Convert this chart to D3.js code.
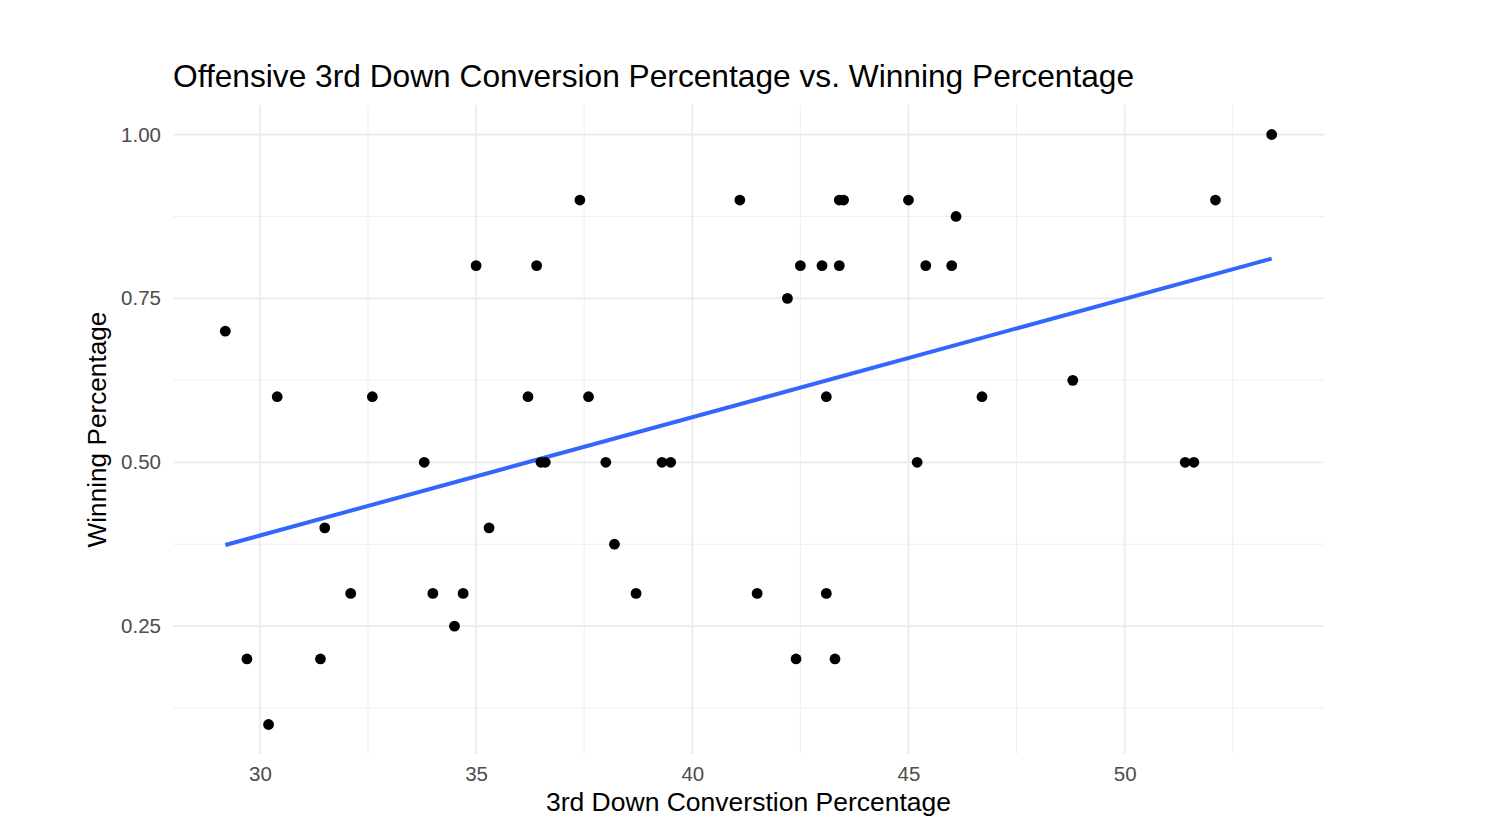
<!DOCTYPE html>
<html>
<head>
<meta charset="utf-8">
<script src="https://cdn.jsdelivr.net/npm/d3@7"></script>
<style>
  body { margin: 0; background: #fff; }
  text { font-family: "Liberation Sans", Arial, sans-serif; }
</style>
</head>
<body>
<svg></svg>
<script>
// third down conversion % (x) and winning % (y), one entry per team
var conversion = [29.2, 30.4, 32.6, 29.7, 30.2, 31.4, 31.5, 32.1, 33.8, 34.0, 34.5, 34.7,
  35.0, 35.3, 36.2, 36.4, 36.5, 36.6, 37.4, 37.6, 38.0, 38.2, 38.7, 39.3, 39.5,
  41.1, 41.5, 42.2, 42.4, 42.5, 43.0, 43.1, 43.1, 43.3, 43.4, 43.5, 43.4,
  45.0, 45.2, 45.4, 46.0, 46.1, 46.7, 48.8, 51.4, 51.6, 52.1, 53.4];
var winPct = [0.7, 0.6, 0.6, 0.2, 0.1, 0.2, 0.4, 0.3, 0.5, 0.3, 0.25, 0.3,
  0.8, 0.4, 0.6, 0.8, 0.5, 0.5, 0.9, 0.6, 0.5, 0.375, 0.3, 0.5, 0.5,
  0.9, 0.3, 0.75, 0.2, 0.8, 0.8, 0.6, 0.3, 0.2, 0.9, 0.9, 0.8,
  0.9, 0.5, 0.8, 0.8, 0.875, 0.6, 0.625, 0.5, 0.5, 0.9, 1.0];
var xTicks = [30, 35, 40, 45, 50];
var yTicks = [0.25, 0.50, 0.75, 1.00];

var points = conversion.map(function(c, i) { return {x: c, y: winPct[i]}; });

var svg = d3.select("svg").attr("width", 1500).attr("height", 836);
var margins = {top: 105, right: 176, bottom: 82, left: 173};
var width = 1500 - margins.left - margins.right,
    height = 836 - margins.top - margins.bottom;

// ggplot style 5% padding
function padded(ext) {
  var pad = (ext[1] - ext[0]) * 0.05;
  return [ext[0] - pad, ext[1] + pad];
}

var x = d3.scaleLinear().domain(padded(d3.extent(conversion))).range([0, width]);
var y = d3.scaleLinear().domain(padded(d3.extent(winPct))).range([height, 0]);

var g = svg.append("g")
  .attr("transform", "translate(" + margins.left + "," + margins.top + ")");

var xMinor = xTicks.map(function(t) { return t + 2.5; }).concat([xTicks[0] - 2.5])
  .filter(function(t) { return t > x.domain()[0] && t < x.domain()[1]; });
var yMinor = yTicks.map(function(t) { return t - 0.125; })
  .filter(function(t) { return t > y.domain()[0] && t < y.domain()[1]; });

g.selectAll(".xminor").data(xMinor).enter().append("line")
  .attr("x1", x).attr("x2", x).attr("y1", 0).attr("y2", height)
  .attr("stroke", "#ededed").attr("stroke-width", 0.9);
g.selectAll(".yminor").data(yMinor).enter().append("line")
  .attr("y1", y).attr("y2", y).attr("x1", 0).attr("x2", width)
  .attr("stroke", "#ededed").attr("stroke-width", 0.9);
g.selectAll(".xmajor").data(xTicks).enter().append("line")
  .attr("x1", x).attr("x2", x).attr("y1", 0).attr("y2", height)
  .attr("stroke", "#ebebeb").attr("stroke-width", 1.8);
g.selectAll(".ymajor").data(yTicks).enter().append("line")
  .attr("y1", y).attr("y2", y).attr("x1", 0).attr("x2", width)
  .attr("stroke", "#ebebeb").attr("stroke-width", 1.8);

var xAxis = d3.axisBottom(x).tickValues(xTicks).tickSize(0).tickPadding(12)
  .tickFormat(d3.format("d"));
g.append("g")
  .attr("class", "x-axis")
  .attr("transform", "translate(0," + height + ")")
  .call(xAxis);

var yAxis = d3.axisLeft(y).tickValues(yTicks).tickSize(0).tickPadding(12)
  .tickFormat(d3.format(".2f"));
g.append("g")
  .attr("class", "y-axis")
  .call(yAxis);

svg.selectAll(".domain").remove();
svg.selectAll(".tick text")
  .attr("fill", "#4d4d4d")
  .style("font-size", "20.5px");

// least squares fit, drawn over the data range
var mx = d3.mean(conversion), my = d3.mean(winPct);
var sxy = d3.sum(points, function(d) { return (d.x - mx) * (d.y - my); });
var sxx = d3.sum(points, function(d) { return (d.x - mx) * (d.x - mx); });
var slope = sxy / sxx, intercept = my - slope * mx;
var xr = d3.extent(conversion);

g.append("line")
  .attr("x1", x(xr[0])).attr("y1", y(intercept + slope * xr[0]))
  .attr("x2", x(xr[1])).attr("y2", y(intercept + slope * xr[1]))
  .attr("stroke", "#3366ff").attr("stroke-width", 4);

g.selectAll("circle")
  .data(points)
  .enter()
  .append("circle")
  .attr("cx", function(d) { return x(d.x); })
  .attr("cy", function(d) { return y(d.y); })
  .attr("r", 5.4)
  .attr("fill", "#000");

svg.append("text")
  .attr("x", 173).attr("y", 87)
  .style("font-size", "31.7px")
  .attr("fill", "#000")
  .text("Offensive 3rd Down Conversion Percentage vs. Winning Percentage");

svg.append("text")
  .attr("x", margins.left + width / 2).attr("y", 811)
  .attr("text-anchor", "middle")
  .style("font-size", "26.5px")
  .text("3rd Down Converstion Percentage");

svg.append("text")
  .attr("transform", "translate(106," + (margins.top + height / 2) + ") rotate(-90)")
  .attr("text-anchor", "middle")
  .style("font-size", "26.2px")
  .text("Winning Percentage");
</script>
</body>
</html>
